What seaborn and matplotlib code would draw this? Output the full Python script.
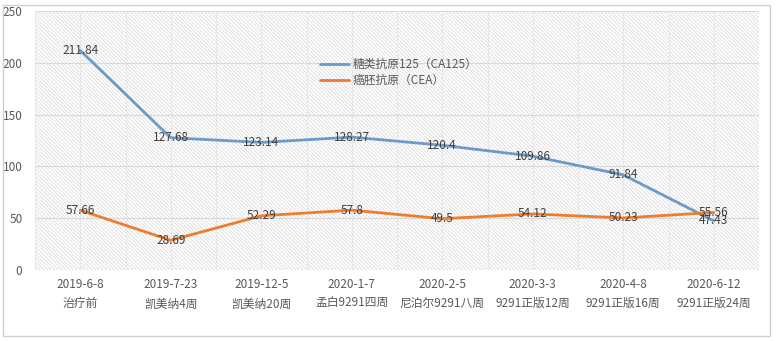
import matplotlib
matplotlib.use("Agg")
import matplotlib.pyplot as plt
import seaborn as sns
import pandas as pd
import numpy as np
from matplotlib.patches import Rectangle

sns.set_theme(style="white")
plt.rcParams['font.family'] = ['Noto Sans CJK SC', 'DejaVu Sans']
plt.rcParams['hatch.color'] = '#d4d4d4'
plt.rcParams['hatch.linewidth'] = 0.5

dates = ["2019-6-8", "2019-7-23", "2019-12-5", "2020-1-7", "2020-2-5", "2020-3-3", "2020-4-8", "2020-6-12"]
stages = ["治疗前", "凯美纳4周", "凯美纳20周", "孟白9291四周", "尼泊尔9291八周", "9291正版12周", "9291正版16周", "9291正版24周"]
ca125 = [211.84, 127.68, 123.14, 128.27, 120.4, 109.86, 91.84, 47.43]
cea = [57.66, 28.69, 52.29, 57.8, 49.5, 54.12, 50.23, 55.56]
series_names = ["糖类抗原125（CA125）", "癌胚抗原（CEA）"]
colors = ["#6b9bc9", "#ed7d31"]

n = len(dates)
df = pd.DataFrame({
    "x": list(range(n)) * 2,
    "value": ca125 + cea,
    "series": [series_names[0]] * n + [series_names[1]] * n,
})

fig = plt.figure(figsize=(7.82, 3.41), dpi=100)
ax = fig.add_axes([35/782, (341-270)/341, (759-35)/782, (270-11)/341])

# chart frame
fig.patches.append(Rectangle((3/782, 5/341), (770-3)/782, (336-5)/341, transform=fig.transFigure,
                             fill=False, edgecolor='#d0d0d0', linewidth=1.0))

ax.patch.set_facecolor('white')
ax.patch.set_hatch('\\' * 9)
ax.patch.set_edgecolor('#d4d4d4')

sns.lineplot(data=df, x="x", y="value", hue="series", palette=colors, linewidth=2.0, ax=ax, legend=True)

ax.set_xlim(-0.5, n - 0.5)
ax.set_ylim(0, 250)
ax.set_yticks(np.arange(0, 251, 50))
ax.set_xticks(range(n))
ax.set_xticklabels([f"{d}\n{s}" for d, s in zip(dates, stages)], fontsize=8.5, color='#595959', linespacing=1.6)
ax.set_xticks(np.arange(-0.5, n, 0.5), minor=True)
ax.tick_params(axis='y', labelsize=8.5, labelcolor='#595959', length=0, pad=9)
ax.tick_params(axis='x', which='both', length=0, pad=6)
ax.grid(True, axis='y', color='#d9d9d9', linewidth=0.8)
ax.grid(True, axis='x', which='both', color='#e6e6e6', linewidth=0.7)
ax.set_axisbelow(True)
for sp in ax.spines.values():
    sp.set_visible(False)
ax.set_xlabel("")
ax.set_ylabel("")

for vals in (ca125, cea):
    for i, v in enumerate(vals):
        ax.text(i, v, f"{v:g}", ha='center', va='center', fontsize=8.5, color='#404040')

leg = ax.legend(loc='upper left', bbox_to_anchor=(0.385, 0.84), frameon=False, fontsize=8.5,
                handlelength=2.5, handletextpad=0.3, labelspacing=0.2, borderpad=0)
for t in leg.get_texts():
    t.set_color('#595959')

fig.savefig("out.png", dpi=100)
